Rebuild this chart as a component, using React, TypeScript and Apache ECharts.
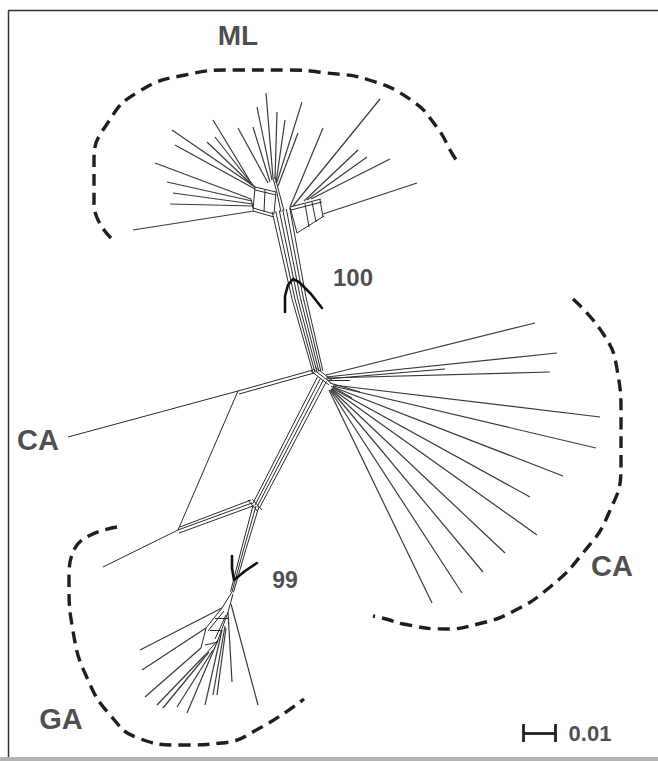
import React, { useEffect, useRef } from "react";
import * as echarts from "echarts";

type Pt = [number, number];
type Seg = [number, number, number, number];

// Chart coordinate space (one unit per pixel of the figure)
const X_MAX = 658;
const Y_MAX = 761;

// ---------- ML clade ----------
const mlTipEdges: Seg[] = [
  [273, 178, 266, 93],
  [272, 180, 257, 107],
  [275, 179, 277, 112],
  [277, 182, 302, 102],
  [276, 183, 285, 120],
  [278, 186, 298, 133],
  [270, 182, 253, 127],
  [268, 183, 238, 128],
  [250, 181, 213, 120],
  [251, 183, 215, 137],
  [252, 185, 207, 142],
  [255, 187, 172, 130],
  [255, 189, 175, 145],
  [251, 199, 155, 163],
  [252, 201, 167, 182],
  [253, 204, 173, 193],
  [253, 206, 170, 204],
  [254, 211, 133, 230],
  [290, 207, 323, 128],
  [293, 206, 380, 99],
  [304, 201, 358, 150],
  [307, 200, 367, 157],
  [311, 199, 390, 159],
  [323, 214, 417, 183],
];
const mlInnerEdges: Seg[] = [
  [273, 178, 277, 193], [275, 177, 279, 192], [277, 193, 281, 212], [279, 192, 284, 211],
  [255, 187, 276, 192], [255, 190, 276, 195], [253, 208, 274, 214], [253, 211, 274, 217],
  [255, 187, 253, 210], [276, 192, 274, 214], [265, 190, 264, 212],
  [250, 181, 255, 187], [251, 199, 253, 208],
  [290, 207, 321, 199], [291, 210, 322, 202], [297, 233, 324, 216],
  [290, 207, 297, 233], [305, 204, 309, 227], [312, 202, 316, 222], [320, 200, 323, 217],
];

// ---------- trunks (centre line, half widths, strands) ----------
const upperTrunk: Pt[] = [[281, 210], [299, 298], [318, 372]];
const upperTrunkHalfWidth = [9, 7, 5];
const upperTrunkStrands = [-1, -0.6, -0.2, 0.2, 0.6, 1];

const lowerTrunk: Pt[] = [[322, 379], [256, 506]];
const lowerTrunkHalfWidth = [5, 4];
const lowerTrunkStrands = [-1, -0.33, 0.33, 1];

const gaTrunk: Pt[] = [[256, 506], [244, 548], [232, 592]];
const gaTrunkHalfWidth = [3, 2.2, 1.5];
const gaTrunkStrands = [-1, 0, 1];

// ---------- central splits and CA (left) ----------
const centreEdges: Seg[] = [
  [313, 369, 331, 383], [315, 367, 333, 381], [311, 371, 329, 385],
  [313, 370, 238, 391], [314, 373, 239, 394],
  [238, 391, 68, 437],
  [238, 391, 178, 530],
  [178, 530, 252, 503], [179, 533, 253, 506], [180, 527, 251, 500],
  [178, 530, 103, 567],
  [248, 500, 258, 512], [252, 499, 262, 510],
];

// ---------- CA (right) clade ----------
const caTipEdges: Seg[] = [
  [326, 375, 535, 323],
  [326, 377, 557, 353],
  [327, 378, 550, 372],
  [333, 385, 600, 417],
  [333, 386, 596, 448],
  [333, 387, 563, 476],
  [332, 388, 530, 497],
  [332, 389, 537, 535],
  [331, 389, 505, 553],
  [331, 390, 483, 572],
  [330, 390, 462, 593],
  [329, 390, 432, 603],
];
const caInnerEdges: Seg[] = [
  [326, 379, 445, 369], [328, 380, 350, 380], [330, 383, 360, 392], [331, 386, 352, 398],
];

// ---------- GA clade ----------
const gaTipEdges: Seg[] = [
  [222, 608, 140, 650],
  [206, 628, 142, 670],
  [201, 648, 145, 697],
  [205, 655, 157, 705],
  [209, 652, 163, 708],
  [213, 650, 177, 707],
  [218, 640, 187, 713],
  [222, 630, 205, 705],
  [225, 626, 213, 695],
  [226, 628, 217, 695],
  [228, 612, 232, 682],
  [231, 604, 258, 705],
];
const gaInnerEdges: Seg[] = [
  [232, 592, 222, 608], [233, 594, 228, 612], [222, 608, 206, 628], [224, 611, 208, 631],
  [228, 612, 218, 640], [226, 615, 215, 639], [218, 640, 205, 655], [206, 628, 201, 648],
  [210, 630, 222, 630], [205, 645, 218, 642], [215, 618, 228, 618],
];

// ---------- bootstrap marks ----------
const mark100: Pt[] = [[285, 312], [285, 296], [288, 285], [293, 279], [299, 282], [311, 294], [322, 308]];
const mark99: Pt[] = [[232, 556], [232, 568], [234, 580], [245, 571], [257, 563]];

// ---------- clade outlines (dashed) ----------
const mlArc: Pt[] = [
  [111, 238], [94, 204], [94, 160], [109, 121], [138, 92], [185, 75], [235, 70],
  [285, 70], [327, 73], [369, 80], [411, 100], [436, 126], [453, 155], [459, 164],
];
const caArc: Pt[] = [
  [573, 299], [604, 335], [617, 369], [621, 417], [621, 466], [608, 515], [583, 553],
  [550, 587], [512, 612], [478, 624], [445, 629], [403, 624], [386, 619], [373, 616],
];
const gaArc: Pt[] = [
  [117, 527], [75, 548], [69, 583], [73, 631], [88, 680], [111, 716], [138, 738],
  [180, 745], [222, 743], [260, 728], [304, 699],
];

// ---------- scale bar ----------
const scaleBarStart: Pt = [523, 733];
const scaleBarLength = 32; // 0.01 substitutions per site
const scaleBarLabel = "0.01";

// ---------- labels ----------
const labelNames = ["ML", "CA", "CA", "GA", "100", "99"];
const labelPos: Pt[] = [[238, 35], [38, 440], [612, 566], [61, 719], [353, 277], [285, 580]];
const labelSizes = [28, 29, 29, 29, 24, 23];

function segs(list: Seg[]) {
  return list.map((s) => ({ coords: [[s[0], s[1]], [s[2], s[3]]] }));
}

function strands(centre: Pt[], half: number[], fr: number[]) {
  const out: { coords: Pt[] }[] = [];
  fr.forEach((f) => {
    const pts: Pt[] = centre.map((p, i) => {
      const a = centre[Math.max(0, i - 1)];
      const b = centre[Math.min(centre.length - 1, i + 1)];
      const dx = b[0] - a[0];
      const dy = b[1] - a[1];
      const len = Math.hypot(dx, dy);
      const nx = dy / len;
      const ny = -dx / len;
      return [p[0] + nx * half[i] * f, p[1] + ny * half[i] * f];
    });
    out.push({ coords: pts });
  });
  return out;
}

export default function App() {
  const ref = useRef<HTMLDivElement>(null);
  useEffect(() => {
    if (!ref.current) return;
    const chart = echarts.init(ref.current, null, { renderer: "svg" });
    const tipStyle = { color: "#3a3a3a", width: 1.2, opacity: 1 };
    const innerStyle = { color: "#2a2a2a", width: 1, opacity: 1 };
    const dash = { color: "#1e1e1e", width: 3.4, type: [12, 7] as number[], opacity: 1 };
    const bar = [
      { coords: [scaleBarStart, [scaleBarStart[0] + scaleBarLength, scaleBarStart[1]]] },
      { coords: [[scaleBarStart[0], scaleBarStart[1] - 9], [scaleBarStart[0], scaleBarStart[1] + 9]] },
      {
        coords: [
          [scaleBarStart[0] + scaleBarLength, scaleBarStart[1] - 9],
          [scaleBarStart[0] + scaleBarLength, scaleBarStart[1] + 9],
        ],
      },
    ];
    const labels = labelNames.map((n, i) => ({
      value: labelPos[i],
      name: n,
      label: { fontSize: labelSizes[i] },
    }));
    labels.push({
      value: [scaleBarStart[0] + scaleBarLength + 35, scaleBarStart[1]] as Pt,
      name: scaleBarLabel,
      label: { fontSize: 22 },
    });
    chart.setOption({
      animation: false,
      backgroundColor: "#fff",
      grid: { left: 0, right: 0, top: 0, bottom: 0 },
      xAxis: { type: "value", min: 0, max: X_MAX, show: false },
      yAxis: { type: "value", min: 0, max: Y_MAX, inverse: true, show: false },
      graphic: [
        { type: "line", shape: { x1: 8.5, y1: 10.5, x2: 8.5, y2: 757 }, style: { stroke: "#333", lineWidth: 1.5 } },
        { type: "line", shape: { x1: 8, y1: 10.5, x2: 658, y2: 10.5 }, style: { stroke: "#333", lineWidth: 1.5 } },
        { type: "rect", shape: { x: 0, y: 757, width: 658, height: 4 }, style: { fill: "#b4b4b4" } },
      ],
      series: [
        { type: "lines", coordinateSystem: "cartesian2d", silent: true, lineStyle: tipStyle,
          data: [...segs(mlTipEdges), ...segs(caTipEdges), ...segs(gaTipEdges)] },
        { type: "lines", coordinateSystem: "cartesian2d", silent: true, lineStyle: innerStyle,
          data: [...segs(mlInnerEdges), ...segs(centreEdges), ...segs(caInnerEdges), ...segs(gaInnerEdges)] },
        { type: "lines", coordinateSystem: "cartesian2d", polyline: true, silent: true, lineStyle: innerStyle,
          data: [
            ...strands(upperTrunk, upperTrunkHalfWidth, upperTrunkStrands),
            ...strands(lowerTrunk, lowerTrunkHalfWidth, lowerTrunkStrands),
            ...strands(gaTrunk, gaTrunkHalfWidth, gaTrunkStrands),
          ] },
        { type: "lines", coordinateSystem: "cartesian2d", polyline: true, silent: true,
          lineStyle: { color: "#111", width: 2.6, cap: "round", join: "round", opacity: 1 },
          data: [{ coords: mark100 }, { coords: mark99 }] },
        { type: "lines", coordinateSystem: "cartesian2d", silent: true,
          lineStyle: { color: "#222", width: 2.8, opacity: 1 }, data: bar },
        ...[mlArc, caArc, gaArc].map((arc) => ({
          type: "line", data: arc, smooth: 0.5, symbol: "none", silent: true, lineStyle: dash,
        })),
        { type: "scatter", symbolSize: 1, itemStyle: { color: "transparent" }, silent: true,
          label: { show: true, position: "inside", formatter: "{b}", color: "#1e1e1e",
            fontWeight: "bold", fontFamily: "Liberation Sans, Arial, sans-serif" },
          data: labels },
      ],
    });
    return () => chart.dispose();
  }, []);
  return <div ref={ref} style={{ position: "fixed", left: 0, top: 0, width: X_MAX, height: Y_MAX }} />;
}
